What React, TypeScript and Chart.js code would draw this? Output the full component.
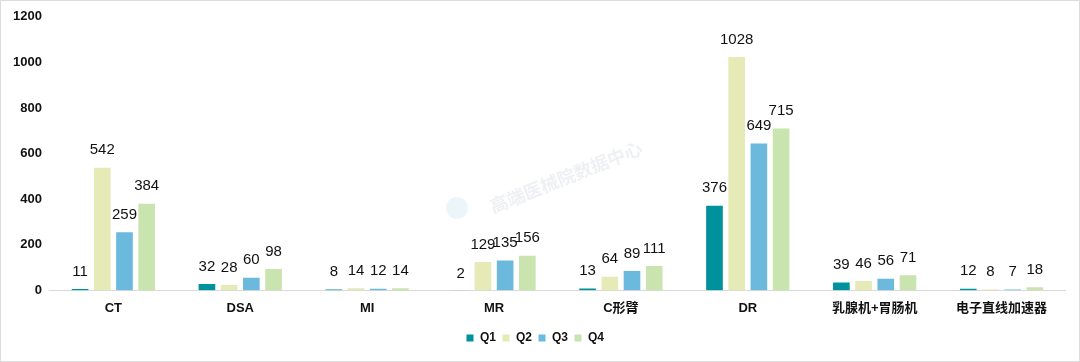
import React, { useEffect, useRef } from "react";
import { Chart, registerables } from "chart.js";

Chart.register(...registerables);

const categories = ["CT", "DSA", "MI", "MR", "C形臂", "DR", "乳腺机+胃肠机", "电子直线加速器"];
const q1 = [11, 32, 8, 2, 13, 376, 39, 12];
const q2 = [542, 28, 14, 129, 64, 1028, 46, 8];
const q3 = [259, 60, 12, 135, 89, 649, 56, 7];
const q4 = [384, 98, 14, 156, 111, 715, 71, 18];
const seriesNames = ["Q1", "Q2", "Q3", "Q4"];
const seriesColors = ["#00929C", "#E5EAB6", "#6BB9DD", "#C9E4AF"];
const watermark = "高端医械院数据中心";

const FONT = "'Liberation Sans', Arial, 'Noto Sans CJK SC', sans-serif";

const labelPlugin = {
  id: "barLabels",
  afterDatasetsDraw(chart: any) {
    const ctx = chart.ctx;
    ctx.save();
    ctx.fillStyle = "#111";
    ctx.font = `15px ${FONT}`;
    ctx.textAlign = "center";
    ctx.textBaseline = "bottom";
    chart.data.datasets.forEach((ds: any, di: number) => {
      const meta = chart.getDatasetMeta(di);
      meta.data.forEach((el: any, i: number) => {
        ctx.fillText(String(ds.data[i]), el.x, el.y - 9);
      });
    });
    ctx.restore();
  },
};

const watermarkPlugin = {
  id: "watermark",
  beforeDatasetsDraw(chart: any) {
    const ctx = chart.ctx;
    ctx.save();
    ctx.translate(565, 176);
    ctx.rotate(-0.38);
    ctx.fillStyle = "rgba(205,212,220,0.35)";
    ctx.font = `bold 18px 'Noto Sans CJK SC', sans-serif`;
    ctx.textAlign = "center";
    ctx.textBaseline = "middle";
    ctx.fillText(watermark, 0, 0);
    ctx.restore();
    ctx.save();
    ctx.fillStyle = "rgba(120,190,220,0.15)";
    ctx.beginPath();
    ctx.arc(456, 207, 11, 0, Math.PI * 2);
    ctx.fill();
    ctx.restore();
  },
};

export default function App() {
  const ref = useRef<HTMLCanvasElement>(null);
  useEffect(() => {
    document.body.style.margin = "0";
    const chart = new Chart(ref.current!, {
      type: "bar",
      data: {
        labels: categories,
        datasets: [q1, q2, q3, q4].map((d, i) => ({
          label: seriesNames[i],
          data: d,
          backgroundColor: seriesColors[i],
          borderColor: "#ffffff",
          borderWidth: 1,
          categoryPercentage: 0.7,
          barPercentage: 0.84,
        })),
      },
      options: {
        animation: false,
        responsive: false,
        layout: { padding: { top: 12, right: 14, left: 4, bottom: 7 } },
        plugins: {
          legend: {
            position: "bottom",
            labels: {
              boxWidth: 8,
              boxHeight: 8,
              padding: 6,
              color: "#111",
              font: { family: FONT, size: 12, weight: "bold" },
            },
          },
          tooltip: { enabled: false },
        },
        scales: {
          x: {
            grid: { display: false, drawTicks: false },
            border: { display: true, color: "#d9d9d9", width: 1 },
            ticks: {
              color: "#111",
              padding: 10,
              font: { family: FONT, size: 13, weight: "bold" },
            },
          },
          y: {
            min: 0,
            max: 1200,
            grid: { display: false, drawTicks: false },
            border: { display: false },
            ticks: {
              stepSize: 200,
              color: "#111",
              padding: 8,
              callback: (v: any) => String(v),
              font: { family: FONT, size: 13, weight: "bold" },
            },
          },
        },
      },
      plugins: [watermarkPlugin, labelPlugin],
    });
    return () => chart.destroy();
  }, []);
  return (
    <div style={{ width: 1080, height: 362, boxSizing: "border-box", border: "1px solid #dcdcdc", background: "#fff" }}>
      <canvas ref={ref} width={1078} height={360} />
    </div>
  );
}
